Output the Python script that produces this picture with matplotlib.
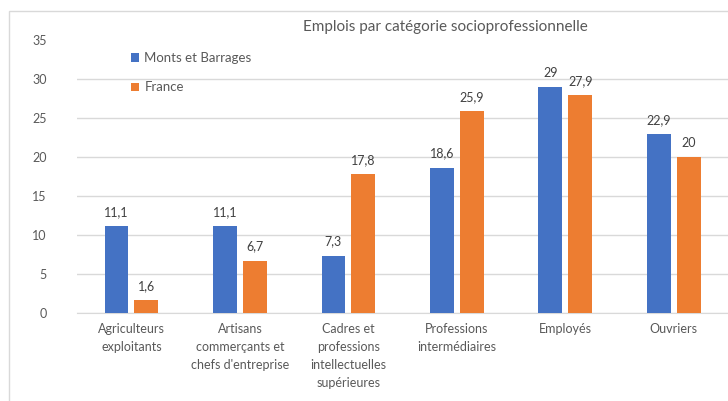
import matplotlib.pyplot as plt
import numpy as np
from matplotlib.patches import Rectangle

categories = ["Agriculteurs\nexploitants", "Artisans\ncommerçants et\nchefs d'entreprise",
              "Cadres et\nprofessions\nintellectuelles\nsupérieures",
              "Professions\nintermédiaires", "Employés", "Ouvriers"]
monts = [11.1, 11.1, 7.3, 18.6, 29, 22.9]
france = [1.6, 6.7, 17.8, 25.9, 27.9, 20]
yticks = [0, 5, 10, 15, 20, 25, 30, 35]

plt.rcParams['font.family'] = ['Lato', 'DejaVu Sans']

fig = plt.figure(figsize=(7.28, 4.01), dpi=100)
ax = fig.add_axes([0.106, 0.22, 0.894, 0.68])

# chart border
fig.patches.append(Rectangle((9/728, -0.1), 1.2, 1 - 11/401 + 0.1, transform=fig.transFigure,
                             fill=False, edgecolor="#d9d9d9", linewidth=1))

x = np.arange(len(categories))
w = 0.22
gap = 0.055
b1 = ax.bar(x - (w + gap) / 2, monts, w, color="#4472C4", label="Monts et Barrages", zorder=3)
b2 = ax.bar(x + (w + gap) / 2, france, w, color="#ED7D31", label="France", zorder=3)

def fmt(v):
    return f"{v:g}".replace(".", ",")

for bars, vals in [(b1, monts), (b2, france)]:
    for r, v in zip(bars, vals):
        ax.annotate(fmt(v), (r.get_x() + r.get_width() / 2, v), xytext=(0, 6),
                    textcoords="offset points", ha="center", va="bottom",
                    fontsize=9, color="#404040")

ax.set_xlim(-0.5, len(categories) - 0.5)
ax.set_ylim(0, 35)
ax.set_yticks(yticks)
ax.set_xticks(x)
ax.set_xticklabels(categories, linespacing=1.6)
ax.tick_params(axis="both", length=0, labelsize=9, colors="#595959")
ax.tick_params(axis="x", pad=7)
ax.tick_params(axis="y", pad=22)
ax.grid(axis="y", color="#d9d9d9", linewidth=1, zorder=0)
ax.yaxis.get_gridlines()[-1].set_visible(False)
for s in ["top", "right", "left"]:
    ax.spines[s].set_visible(False)
ax.spines["bottom"].set_color("#d9d9d9")

fig.text(445/728, 1 - 27/401, "Emplois par catégorie socioprofessionnelle",
         ha="center", va="center", fontsize=11, color="#595959")

ax.legend(loc="upper left", bbox_to_anchor=(0.075, 0.975), frameon=False, fontsize=9.5,
          handlelength=0.6, handleheight=0.6, handletextpad=0.4, labelspacing=1.3,
          labelcolor="#595959", borderaxespad=0)

fig.savefig("out.png", dpi=100)
